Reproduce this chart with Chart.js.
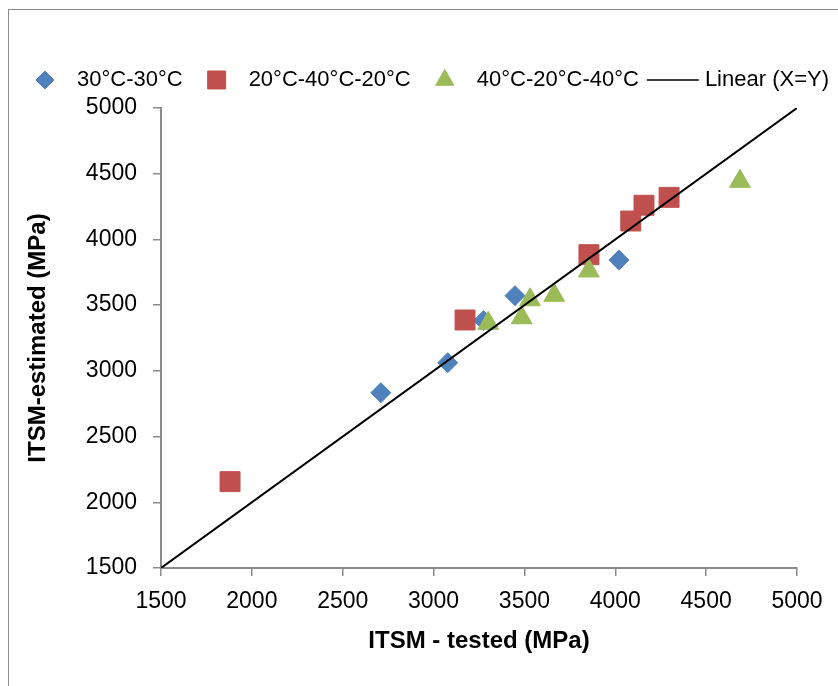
<!DOCTYPE html>
<html>
<head>
<meta charset="utf-8">
<title>ITSM estimated vs tested</title>
<script src="https://cdn.jsdelivr.net/npm/chart.js@4.4.1/dist/chart.umd.min.js"></script>
<style>
  html, body { margin: 0; padding: 0; background: #fff; overflow: hidden; }
  #wrap { position: relative; width: 838px; height: 686px; overflow: hidden; }
  #frame { position: absolute; left: 8px; top: 9px; width: 900px; height: 800px; border: 1px solid #8c8c8c; }
  canvas { position: absolute; left: 0; top: 0; }
</style>
</head>
<body>
<div id="wrap">
  <div id="frame"></div>
  <canvas id="itsmChart" width="838" height="686"></canvas>
</div>
<script>
// series labels
const seriesLabels = ['30°C-30°C', '20°C-40°C-20°C', '40°C-20°C-40°C', 'Linear (X=Y)'];

// ITSM tested (x) / estimated (y), MPa
const tested30 = [2710, 3078, 3275, 3448, 4020];
const estimated30 = [2834, 3062, 3382, 3572, 3843];
const tested20 = [1880, 3173, 3855, 4085, 4158, 4296];
const estimated20 = [2157, 3387, 3884, 4140, 4260, 4320];
const tested40 = [3301, 3485, 3531, 3664, 3855, 4686];
const estimated40 = [3362, 3404, 3541, 3575, 3760, 4442];
const lineXY = [1500, 5000];

const axisMin = 1500, axisMax = 5000, axisStep = 500;

const toPoints = (xs, ys) => xs.map((x, i) => ({ x, y: ys[i] }));

const blue = '#4F81BD', red = '#C0504D', green = '#9BBB59';
const axisGrey = '#8a8a8a';
const fontFamily = '"Liberation Sans", Arial, sans-serif';
const legendRadius = [9, 12.7, 10.5];

// excel style legend, one row above the plot
const excelLegend = {
  id: 'excelLegend',
  afterDraw(chart) {
    const ctx = chart.ctx;
    const y = 80;
    let x = 35;
    ctx.save();
    ctx.font = '22px ' + fontFamily;
    ctx.textBaseline = 'middle';
    chart.data.datasets.forEach((ds, i) => {
      if (i > 0) x += ds.showLine ? 8 : 24;
      if (ds.showLine) {
        ctx.strokeStyle = ds.borderColor;
        ctx.lineWidth = 1.5;
        ctx.beginPath();
        ctx.moveTo(x, y);
        ctx.lineTo(x + 52, y);
        ctx.stroke();
        x += 58;
      } else {
        ctx.fillStyle = ds.backgroundColor;
        ctx.strokeStyle = ds.borderColor;
        ctx.lineWidth = 1;
        Chart.helpers.drawPoint(ctx, { pointStyle: ds.pointStyle, radius: legendRadius[i], rotation: 0, borderWidth: 1 }, x + 10, y);
        x += 42;
      }
      ctx.fillStyle = '#000';
      ctx.fillText(ds.label, x, y);
      x += ctx.measureText(ds.label).width;
    });
    ctx.restore();
  }
};

const plainTick = v => String(v);

const ctx = document.getElementById('itsmChart').getContext('2d');
const itsmChart = new Chart(ctx, {
  type: 'scatter',
  data: {
    datasets: [
      { label: seriesLabels[0], data: toPoints(tested30, estimated30), pointStyle: 'rectRot', pointRadius: 10,
        backgroundColor: blue, borderColor: blue, borderWidth: 1, order: 3 },
      { label: seriesLabels[1], data: toPoints(tested20, estimated20), pointStyle: 'rect', pointRadius: 14.1,
        backgroundColor: red, borderColor: red, borderWidth: 1, order: 2 },
      { label: seriesLabels[2], data: toPoints(tested40, estimated40), pointStyle: 'triangle', pointRadius: 12,
        backgroundColor: green, borderColor: green, borderWidth: 1, order: 1 },
      { label: seriesLabels[3], data: toPoints(lineXY, lineXY), showLine: true, pointRadius: 0,
        borderColor: '#000', backgroundColor: '#000', borderWidth: 2, order: 0 }
    ]
  },
  options: {
    responsive: false,
    animation: false,
    layout: { padding: { left: 14, right: 41, top: 108, bottom: 0 } },
    plugins: { legend: { display: false }, tooltip: { enabled: false } },
    scales: {
      x: {
        type: 'linear', min: axisMin, max: axisMax,
        afterFit: s => { s.height = 118; },
        ticks: { stepSize: axisStep, padding: 12, color: '#000', callback: plainTick, font: { family: fontFamily, size: 23 } },
        grid: { drawOnChartArea: false, drawTicks: true, tickLength: 8, color: axisGrey, lineWidth: 1.5 },
        border: { color: axisGrey, width: 2 },
        title: { display: true, text: 'ITSM - tested (MPa)', color: '#000', padding: { top: 0, bottom: 30 },
          font: { family: fontFamily, size: 24, weight: 'bold' } }
      },
      y: {
        type: 'linear', min: axisMin, max: axisMax,
        afterFit: s => { s.width = 147; },
        ticks: { stepSize: axisStep, padding: 16, color: '#000', callback: plainTick, font: { family: fontFamily, size: 23 } },
        grid: { drawOnChartArea: false, drawTicks: true, tickLength: 8, color: axisGrey, lineWidth: 1.5 },
        border: { color: axisGrey, width: 2 },
        title: { display: true, text: 'ITSM-estimated (MPa)', color: '#000', padding: { top: 10, bottom: 0 },
          font: { family: fontFamily, size: 24, weight: 'bold' } }
      }
    }
  },
  plugins: [excelLegend]
});
</script>
</body>
</html>
